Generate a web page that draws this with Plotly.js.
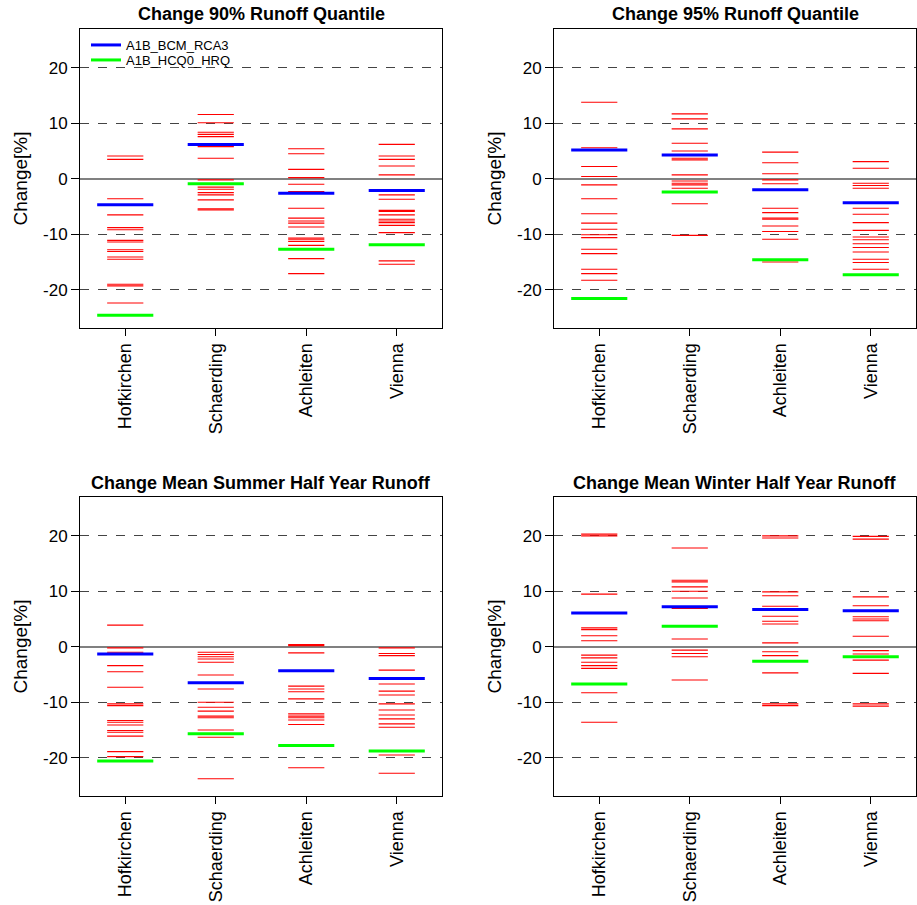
<!DOCTYPE html>
<html>
<head>
<meta charset="utf-8">
<script src="https://cdn.plot.ly/plotly-3.0.1.min.js"></script>
<style>html,body{margin:0;padding:0;background:#fff;}#chart{width:917px;height:905px;}</style>
</head>
<body>
<div id="chart"></div>
<script>
// ---- Data ----
const stations = ["Hofkirchen", "Schaerding", "Achleiten", "Vienna"];
const panelTitles = ["Change 90% Runoff Quantile", "Change 95% Runoff Quantile",
                     "Change Mean Summer Half Year Runoff", "Change Mean Winter Half Year Runoff"];
const yTickVals = [-20, -10, 0, 10, 20];
const yTickText = ["-20", "-10", "0", "10", "20"];
const seriesNames = ["A1B_BCM_RCA3", "A1B_HCQ0_HRQ"];

// 90% quantile
const q90_hof = [4.1, 3.5, -3.6, -6.5, -8.8, -9.2, -11.1, -11.4, -12.8, -13.1, -14.1, -14.5, -19.0, -19.3, -22.4];
const q90_sch = [11.6, 10.1, 8.4, 8.0, 7.6, 5.8, 3.7, -0.2, -1.5, -1.9, -2.5, -2.9, -3.8, -5.4, -5.6];
const q90_ach = [5.4, 4.5, 1.7, 0.2, -1.0, -2.3, -5.3, -7.1, -7.6, -8.0, -8.7, -10.7, -11.0, -11.3, -12.0, -14.4, -17.1];
const q90_vie = [6.2, 4.1, 3.5, 2.3, 0.7, -2.9, -3.7, -5.7, -5.9, -6.5, -7.3, -7.6, -7.9, -8.4, -9.7, -14.8, -15.4];
const q90_bcm = [-4.7, 6.2, -2.6, -2.1];
const q90_hcq = [-24.6, -0.9, -12.7, -11.9];

// 95% quantile
const q95_hof = [13.8, 5.6, 2.2, 0.4, -1.1, -3.6, -6.3, -8.0, -9.1, -10.1, -10.6, -12.7, -13.5, -16.3, -17.1, -18.3];
const q95_sch = [11.7, 10.8, 9.0, 6.4, 5.0, 3.7, 3.4, 0.7, -0.4, -0.8, -1.1, -1.7, -4.5, -10.2];
const q95_ach = [4.8, 2.9, 0.9, -0.2, -0.9, -5.3, -6.1, -7.1, -7.3, -8.5, -9.5, -10.9, -15.0];
const q95_vie = [3.1, 1.9, -0.8, -1.2, -1.7, -5.3, -6.4, -7.9, -9.3, -10.5, -11.0, -11.7, -12.4, -13.2, -14.5, -15.1, -16.3];
const q95_bcm = [5.2, 4.3, -2.0, -4.3];
const q95_hcq = [-21.6, -2.4, -14.6, -17.3];

// Summer half year mean
const sum_hof = [3.9, -0.2, -1.0, -3.4, -4.5, -7.3, -10.3, -10.6, -13.3, -13.6, -14.1, -15.1, -15.4, -16.1, -18.9, -19.8];
const sum_sch = [-1.0, -1.4, -1.8, -2.2, -2.8, -5.1, -7.6, -10.0, -10.9, -11.6, -12.5, -12.8, -15.0, -16.3, -23.8];
const sum_ach = [0.4, 0.2, -1.1, -7.1, -7.6, -8.1, -9.4, -12.1, -12.5, -12.8, -13.2, -14.0, -21.8];
const sum_vie = [-0.2, -1.2, -1.6, -4.2, -6.7, -8.0, -8.7, -10.3, -11.4, -12.3, -13.0, -13.9, -14.5, -19.5, -22.8];
const sum_bcm = [-1.3, -6.5, -4.3, -5.7];
const sum_hcq = [-20.6, -15.7, -17.8, -18.8];

// Winter half year mean
const win_hof = [20.3, 20.0, 9.5, 3.4, 3.1, 2.0, 1.1, -1.5, -2.0, -2.8, -3.4, -3.9, -8.3, -13.6];
const win_sch = [17.8, 12.0, 11.7, 10.8, 10.0, 8.8, 6.9, 1.4, -0.6, -1.2, -1.8, -6.0];
const win_ach = [20.0, 19.6, 9.9, 9.2, 7.3, 5.5, 4.6, 4.1, 0.7, -0.9, -1.6, -4.7, -10.3, -10.6];
const win_vie = [19.9, 19.4, 9.0, 7.4, 5.4, 5.0, 4.7, 1.9, -0.7, -1.3, -2.4, -4.8, -10.3, -10.7];
const win_bcm = [6.1, 7.2, 6.7, 6.5];
const win_hcq = [-6.7, 3.7, -2.6, -1.8];

// ---- Build ----
const panels = [
  {red: [q90_hof, q90_sch, q90_ach, q90_vie], bcm: q90_bcm, hcq: q90_hcq},
  {red: [q95_hof, q95_sch, q95_ach, q95_vie], bcm: q95_bcm, hcq: q95_hcq},
  {red: [sum_hof, sum_sch, sum_ach, sum_vie], bcm: sum_bcm, hcq: sum_hcq},
  {red: [win_hof, win_sch, win_ach, win_vie], bcm: win_bcm, hcq: win_hcq}
];

function segs(valsPerCat, half) {
  const x = [], y = [];
  valsPerCat.forEach((vals, i) => {
    const c = i + 1;
    (Array.isArray(vals) ? vals : [vals]).forEach(v => {
      x.push(c - half, c + half, null);
      y.push(v, v, null);
    });
  });
  return {x, y};
}

const W = 917, H = 905;
const xDom = [[80 / W, 442 / W], [554 / W, 916 / W]];
const yDom = [[1 - 328 / H, 1 - 29 / H], [1 - 796 / H, 1 - 497 / H]];
const titleY = [1 - 14 / H, 1 - 483 / H];

const legendBase = {xanchor: "left", yanchor: "middle", bgcolor: "rgba(0,0,0,0)",
                    font: {size: 13}, itemwidth: 30};

const traces = [];
const layout = {
  width: W, height: H,
  margin: {l: 0, r: 0, t: 0, b: 0},
  paper_bgcolor: "#fff", plot_bgcolor: "#fff",
  font: {family: "Liberation Sans, Arial, sans-serif", color: "#000"},
  showlegend: true,
  legend: Object.assign({x: 86 / W, y: 1 - 45 / H}, legendBase),
  legend2: Object.assign({x: 86 / W, y: 1 - 60 / H}, legendBase),
  annotations: [],
  shapes: []
};

panels.forEach((p, k) => {
  const col = k % 2, row = Math.floor(k / 2);
  const ax = k === 0 ? "" : String(k + 1);
  const xa = "x" + ax, ya = "y" + ax;
  const r = segs(p.red, 0.2);
  traces.push({x: r.x, y: r.y, xaxis: xa, yaxis: ya, mode: "lines", type: "scatter",
               line: {color: "#ff0000", width: 1.1}, showlegend: false, hoverinfo: "skip"});
  const b = segs(p.bcm, 0.31);
  traces.push({x: b.x, y: b.y, xaxis: xa, yaxis: ya, mode: "lines", type: "scatter",
               line: {color: "#0000ff", width: 3}, name: seriesNames[0], showlegend: k === 0,
               legend: "legend"});
  const g = segs(p.hcq, 0.31);
  traces.push({x: g.x, y: g.y, xaxis: xa, yaxis: ya, mode: "lines", type: "scatter",
               line: {color: "#00ff00", width: 3}, name: seriesNames[1], showlegend: k === 0,
               legend: "legend2"});

  layout["xaxis" + ax] = {
    domain: xDom[col], anchor: ya, range: [0.5, 4.5],
    tickmode: "array", tickvals: [1, 2, 3, 4], ticktext: stations,
    tickangle: -90, ticks: "outside", ticklen: 7, tickcolor: "#000",
    tickfont: {size: 18}, showgrid: false, zeroline: false,
    showline: true, mirror: true, linecolor: "#000", linewidth: 1, fixedrange: true
  };
  layout["yaxis" + ax] = {
    domain: yDom[row], anchor: xa, range: [-26.9, 27],
    tickmode: "array", tickvals: yTickVals, ticktext: yTickText,
    ticks: "outside", ticklen: 8, tickcolor: "#000", tickfont: {size: 17},
    showgrid: true, gridcolor: "#444", griddash: "dash", gridwidth: 1,
    zeroline: true, zerolinecolor: "#808080", zerolinewidth: 2,
    showline: true, mirror: true, linecolor: "#000", linewidth: 1,
    title: {text: "Change[%]", font: {size: 19}, standoff: 10}, fixedrange: true
  };
  layout.annotations.push({
    text: "<b>" + panelTitles[k] + "</b>", xref: "paper", yref: "paper",
    x: (xDom[col][0] + xDom[col][1]) / 2, y: titleY[row],
    xanchor: "center", yanchor: "middle", showarrow: false, font: {size: 18}
  });
});

Plotly.newPlot("chart", traces, layout, {displayModeBar: false, staticPlot: true});
</script>
</body>
</html>
